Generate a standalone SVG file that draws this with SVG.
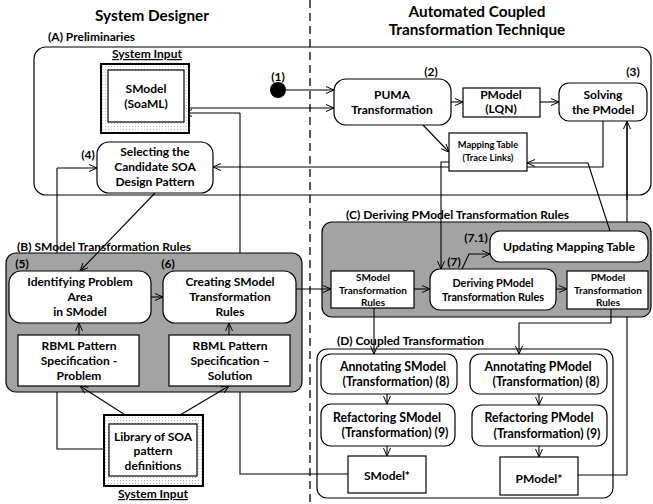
<svg xmlns="http://www.w3.org/2000/svg" width="653" height="504" viewBox="0 0 653 504">
<style>
text{font-family:Lato,"Liberation Sans",sans-serif;font-weight:bold;fill:#000;text-anchor:middle}
.t{font-size:12px}
.d{font-size:12.3px}
.s{font-size:10px}
.dr{font-size:10.8px}
.xs{font-size:9.3px}
.h{font-size:15.3px}
.lbl{font-size:12px;text-anchor:start}
.box{fill:#fff;stroke:#000;stroke-width:1.2}
.cont{fill:none;stroke:#000;stroke-width:1.2}
.gray{fill:#a3a3a3;stroke:#000;stroke-width:1.2}
.ln{fill:none;stroke:#000;stroke-width:1.1}
.ar{marker-end:url(#arr)}
</style>
<defs>
<marker id="arr" viewBox="0 0 8 8" refX="8" refY="4" markerWidth="8" markerHeight="8" markerUnits="userSpaceOnUse" orient="auto">
<path d="M0,0.5 L8,4 L0,7.5" fill="none" stroke="#000" stroke-width="1"/>
</marker>
<pattern id="dots" width="3" height="3" patternUnits="userSpaceOnUse">
<rect width="3" height="3" fill="#fff"/><rect width="1" height="1" fill="#b8b8b8"/>
</pattern>
</defs>
<rect width="653" height="504" fill="#fff"/>
<text class="h" x="152" y="21">System Designer</text>
<text class="h" x="477" y="17">Automated Coupled</text>
<text class="h" x="477" y="35">Transformation Technique</text>
<line x1="310" y1="0" x2="310" y2="504" stroke="#000" stroke-width="1.3" stroke-dasharray="8,5"/>
<g id="containerA">
<rect class="cont" x="34" y="47" width="617" height="148" rx="12"/>
<text class="lbl" x="48" y="41">(A) Preliminaries</text>
</g>
<g id="containerB">
<rect class="gray" x="6" y="253" width="296" height="139" rx="10"/>
<text class="lbl" x="17" y="251">(B) SModel Transformation Rules</text>
<text class="t" x="22" y="268">(5)</text>
<text class="t" x="168" y="268">(6)</text>
</g>
<g id="containerC">
<rect class="gray" x="322" y="222" width="329" height="95" rx="10"/>
<text class="lbl" x="346" y="219">(C) Deriving PModel Transformation Rules</text>
<text class="t" x="476" y="242">(7.1)</text>
<text class="t" x="454" y="266">(7)</text>
</g>
<g id="containerD">
<rect class="cont" x="317" y="349" width="296" height="149" rx="10"/>
<text class="lbl" x="337" y="345">(D) Coupled Transformation</text>
</g>
<g id="connectors">
<path class="ln ar" d="M286,90 H334"/>
<path class="ln ar" d="M184,108 H334"/>
<path class="ln" d="M348,474 H240 V392 M240,253 V113"/>
<path class="ln ar" d="M240,113 H184"/>
<path class="ln ar" d="M451,102 H463"/>
<path class="ln ar" d="M540,102 H559"/>
<path class="ln ar" d="M423,125 L449,152"/>
<path class="ln ar" d="M603,121 V167 H213"/>
<path class="ln ar" d="M610,231 L588,163 H527"/>
<path class="ln ar" d="M449,162 H441 V269"/>
<path class="ln" d="M104,449 H57 V392 M57,253 V168"/>
<path class="ln ar" d="M57,168 H97"/>
<path class="ln ar" d="M155,193 L80,271"/>
<path class="ln ar" d="M151,297 H163"/>
<path class="ln ar" d="M79,335 V323"/>
<path class="ln ar" d="M229,335 V323"/>
<path class="ln ar" d="M130,418 L80,386"/>
<path class="ln ar" d="M175,418 L229,386"/>
<path class="ln ar" d="M296,289 H331"/>
<path class="ln ar" d="M414,289 H430"/>
<path class="ln ar" d="M556,289 H567"/>
<path class="ln ar" d="M462,269 L469,254 H490"/>
<path class="ln ar" d="M374,308 V354"/>
<path class="ln ar" d="M611,309 V323 H519 V354"/>
<path class="ln ar" d="M387,394 V404"/>
<path class="ln ar" d="M387,446 V456"/>
<path class="ln ar" d="M539,394 V405"/>
<path class="ln ar" d="M539,446 V457"/>
<path class="ln" d="M578,475 H627 V317 M627,222 V121"/>
<path class="ln ar" d="M627,200 V121"/>
</g>
<g id="smodel">
<text class="t" x="147" y="58" text-decoration="underline">System Input</text>
<rect x="101" y="64" width="88" height="69" fill="url(#dots)" stroke="#000" stroke-width="2"/>
<rect class="box" x="108" y="70" width="76" height="52"/>
<text class="t" x="146" y="93">SModel</text>
<text class="t" x="146" y="108">(SoaML)</text>
</g>
<g id="start">
<circle cx="278" cy="90" r="8" fill="#000"/>
<text class="t" x="278" y="81">(1)</text>
</g>
<g id="puma">
<rect class="box" x="334" y="79" width="117" height="46" rx="12"/>
<text class="t" x="431" y="76">(2)</text>
<text class="t" x="392" y="99">PUMA</text>
<text class="t" x="392" y="114">Transformation</text>
</g>
<g id="pmodel-lqn">
<rect class="box" x="463" y="88" width="77" height="29"/>
<text class="t" x="501" y="99">PModel</text>
<text class="t" x="501" y="113">(LQN)</text>
</g>
<g id="solving">
<rect class="box" x="559" y="83" width="88" height="38" rx="10"/>
<text class="t" x="633" y="76">(3)</text>
<text class="t" x="603" y="99">Solving</text>
<text class="t" x="603" y="114">the PModel</text>
</g>
<g id="mapping">
<rect class="box" x="449" y="133" width="78" height="38"/>
<text class="xs" x="488" y="148">Mapping Table</text>
<text class="xs" x="488" y="161">(Trace Links)</text>
</g>
<g id="selecting">
<rect class="box" x="97" y="142" width="116" height="51" rx="12"/>
<text class="t" x="88" y="159">(4)</text>
<text class="t" x="155" y="156">Selecting the</text>
<text class="t" x="155" y="171">Candidate SOA</text>
<text class="t" x="155" y="186">Design Pattern</text>
</g>
<g id="identifying">
<rect class="box" x="9" y="271" width="142" height="52" rx="12"/>
<text class="t" x="80" y="286">Identifying Problem</text>
<text class="t" x="80" y="301">Area</text>
<text class="t" x="80" y="316">in SModel</text>
</g>
<g id="creating">
<rect class="box" x="163" y="271" width="133" height="52" rx="12"/>
<text class="t" x="230" y="286">Creating SModel</text>
<text class="t" x="230" y="301">Transformation</text>
<text class="t" x="230" y="316">Rules</text>
</g>
<g id="rbml-problem">
<rect class="box" x="18" y="335" width="121" height="51"/>
<text class="t" x="79" y="350">RBML Pattern</text>
<text class="t" x="79" y="365">Specification -</text>
<text class="t" x="79" y="380">Problem</text>
</g>
<g id="rbml-solution">
<rect class="box" x="169" y="335" width="121" height="51"/>
<text class="t" x="230" y="350">RBML Pattern</text>
<text class="t" x="230" y="365">Specification –</text>
<text class="t" x="230" y="380">Solution</text>
</g>
<g id="library">
<rect x="104" y="415" width="99" height="71" fill="url(#dots)" stroke="#000" stroke-width="2"/>
<rect class="box" x="109" y="424" width="88" height="52"/>
<text class="t" x="153" y="441">Library of SOA</text>
<text class="t" x="153" y="455">pattern</text>
<text class="t" x="153" y="470">definitions</text>
<text class="t" x="153" y="498" text-decoration="underline">System Input</text>
</g>
<g id="updating">
<rect class="box" x="490" y="231" width="158" height="31" rx="10"/>
<text x="569" y="251" style="font-size:12.2px">Updating Mapping Table</text>
</g>
<g id="smodel-tr">
<rect class="box" x="331" y="271" width="83" height="37"/>
<text class="s" x="373" y="281">SModel</text>
<text class="s" x="373" y="294">Transformation</text>
<text class="s" x="373" y="306">Rules</text>
</g>
<g id="deriving">
<rect class="box" x="430" y="269" width="126" height="41" rx="10"/>
<text class="dr" x="493" y="287">Deriving PModel</text>
<text class="dr" x="493" y="301">Transformation Rules</text>
</g>
<g id="pmodel-tr">
<rect class="box" x="567" y="271" width="81" height="38"/>
<text class="s" x="608" y="281">PModel</text>
<text class="s" x="608" y="294">Transformation</text>
<text class="s" x="608" y="306">Rules</text>
</g>
<g id="annot-s">
<rect class="box" x="321" y="354" width="136" height="40" rx="10"/>
<text class="d" x="393" y="371">Annotating SModel</text>
<text class="d" x="396" y="386">(Transformation) (8)</text>
</g>
<g id="annot-p">
<rect class="box" x="470" y="354" width="137" height="40" rx="10"/>
<text class="d" x="538" y="371">Annotating PModel</text>
<text class="d" x="546" y="386">(Transformation) (8)</text>
</g>
<g id="refac-s">
<rect class="box" x="321" y="404" width="134" height="42" rx="10"/>
<text class="d" x="387" y="422">Refactoring SModel</text>
<text class="d" x="395" y="437">(Transformation)  (9)</text>
</g>
<g id="refac-p">
<rect class="box" x="472" y="405" width="135" height="41" rx="10"/>
<text class="d" x="539" y="422">Refactoring PModel</text>
<text class="d" x="547" y="438">(Transformation) (9)</text>
</g>
<g id="smodel-star">
<rect class="box" x="348" y="456" width="78" height="37"/>
<text class="t" x="387" y="480">SModel*</text>
</g>
<g id="pmodel-star">
<rect class="box" x="500" y="457" width="78" height="38"/>
<text class="t" x="539" y="483">PModel*</text>
</g>
</svg>
